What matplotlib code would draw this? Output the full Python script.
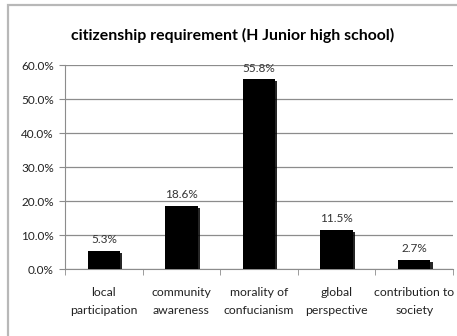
import matplotlib.pyplot as plt
import matplotlib.patheffects as pe
from matplotlib.patches import Rectangle
import numpy as np

plt.rcParams['font.family'] = ['Lato', 'DejaVu Sans']

# share of answers per citizenship item (percent)
categories = ['local\nparticipation', 'community\nawareness', 'morality of\nconfucianism',
              'global\nperspective', 'contribution to\nsociety']
values = [5.3, 18.6, 55.8, 11.5, 2.7]
yticks = [0, 10, 20, 30, 40, 50, 60]

fig = plt.figure(figsize=(4.57, 3.36), dpi=100)
fig.patch.set_facecolor('white')

# light frame around the chart area
frame = Rectangle((8 / 457, -0.05), 1.0, 1 - 5 / 336 + 0.05, transform=fig.transFigure,
                  fill=False, edgecolor='#b8b8b8', linewidth=1.6)
fig.patches.append(frame)

ax = fig.add_axes([65 / 457, 1 - 269 / 336, (453 - 65) / 457, (269 - 65) / 336])
x = np.arange(len(categories))
bars = ax.bar(x, values, width=0.42, color='black', zorder=3)
for b in bars:
    b.set_path_effects([pe.SimplePatchShadow(offset=(1.5, -1.5), shadow_rgbFace='black', alpha=0.85),
                        pe.Normal()])

for xi, v in zip(x, values):
    ax.text(xi, v + 1.7, f'{v:.1f}%', ha='center', va='bottom', fontsize=8.5, color='#333333')

ax.set_xlim(-0.5, len(categories) - 0.5)
ax.set_ylim(0, 60)
ax.set_yticks(yticks)
ax.set_yticklabels([f'{t:.1f}%' for t in yticks], fontsize=8.5, color='#222222')
ax.yaxis.grid(True, color='#8c8c8c', linewidth=0.9, zorder=0)

ax.set_xticks(x)
ax.set_xticklabels(categories, fontsize=8.8, color='#222222', linespacing=1.75)
ax.set_xticks(np.arange(len(categories) + 1) - 0.5, minor=True)
ax.tick_params(axis='x', which='major', length=0, pad=13)
ax.tick_params(axis='x', which='minor', length=4, color='#8c8c8c', direction='out')
ax.tick_params(axis='y', length=4, color='#8c8c8c', pad=4)

for side in ['top', 'right']:
    ax.spines[side].set_visible(False)
ax.spines['left'].set_color('#8c8c8c')
ax.spines['bottom'].set_color('#8c8c8c')

fig.text(0.508, 1 - 35 / 336, 'citizenship requirement (H Junior high school)',
         ha='center', va='center', fontsize=11.4, fontweight='bold', color='black')

fig.savefig('out.png', dpi=100)
